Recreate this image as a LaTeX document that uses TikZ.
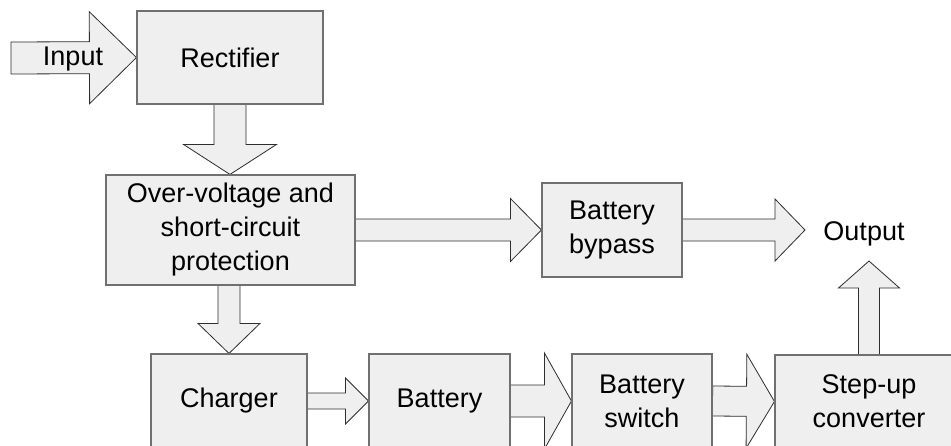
\documentclass[tikz,border=0pt]{standalone}
\usepackage{fontspec}
\setmainfont{Liberation Sans}
\usetikzlibrary{calc,backgrounds}
\definecolor{boxfill}{HTML}{EFEFEF}
\definecolor{boxline}{HTML}{707070}
\definecolor{arrowline}{HTML}{2E2E2E}
\tikzset{
  block/.style={draw=boxline, fill=boxfill, line width=1.1pt, align=center,
    inner sep=0pt, font=\fontsize{27}{34}\selectfont},
  fatarrow/.style={draw=arrowline, fill=boxfill, line width=0.8pt, line join=miter},
  label/.style={inner sep=0pt, anchor=base, font=\fontsize{27}{34}\selectfont}
}
% block arrow: from, tip, shaft half-width, head half-width, head length
\newcommand{\fatarrow}[5]{%
  \coordinate (fa-b) at ($(#2)!#5!(#1)$);
  \draw[fatarrow] ($(#1)!#3!90:(#2)$) -- ($(fa-b)!#3!-90:(#1)$)
    -- ($(fa-b)!#4!-90:(#1)$) -- (#2) -- ($(fa-b)!#4!90:(#1)$)
    -- ($(fa-b)!#3!90:(#1)$) -- ($(#1)!#3!-90:(#2)$) -- cycle;}
\begin{document}
\begin{tikzpicture}[x=1pt,y=-1pt]
\useasboundingbox (0,0) rectangle (951,445);
\node[block, minimum width=186pt, minimum height=93pt] (rect) at (230,57.5) {Rectifier};
\node[block, minimum width=249pt, minimum height=110pt] (prot) at (230.5,230)
{Over-voltage and\\short-circuit\\protection};
\node[block, minimum width=140pt, minimum height=94pt] (bypass) at (612,230) {Battery\\bypass};
\node[block, minimum width=156pt, minimum height=94pt] (charger) at (229,401) {Charger};
\node[block, minimum width=141pt, minimum height=94pt] (battery) at (439.5,401) {Battery};
\node[block, minimum width=140pt, minimum height=94pt] (switch) at (642,401) {Battery\\switch};
\node[block, minimum width=188pt, minimum height=93pt] (stepup) at (869,401.5) {Step-up\\converter};
\node[label] (output) at (864,240) {Output};
\coordinate (in) at (11,58);
\coordinate (outtip) at (805,230);
\coordinate (uptip) at (869,261);
\begin{scope}[on background layer]
\fill[white] (0,0) rectangle (951,445);
\fatarrow{in}{rect.west}{16pt}{46pt}{47pt}
\fatarrow{rect.south}{rect.south |- prot.north}{16pt}{46.5pt}{30pt}
\fatarrow{prot.east}{bypass.west}{11pt}{31.5pt}{31pt}
\fatarrow{bypass.east}{outtip}{11pt}{31pt}{30pt}
\fatarrow{charger.north |- prot.south}{charger.north}{11pt}{31pt}{30pt}
\fatarrow{charger.east}{battery.west}{8pt}{23pt}{23pt}
\fatarrow{battery.east}{switch.west}{16pt}{48pt}{27pt}
\fatarrow{switch.east}{stepup.west}{15pt}{47pt}{28pt}
\fatarrow{stepup.north}{uptip}{10.5pt}{30.5pt}{27pt}
\end{scope}
\node[label] (input) at (73,65.5) {Input};
\end{tikzpicture}
\end{document}
